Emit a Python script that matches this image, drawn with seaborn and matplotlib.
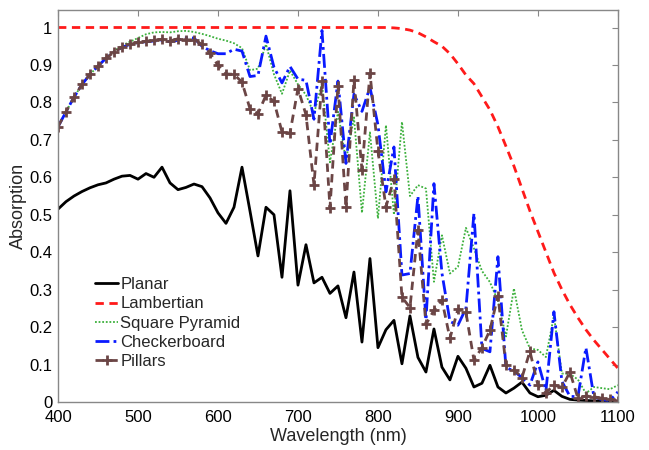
import matplotlib
matplotlib.use("Agg")
import matplotlib.pyplot as plt
import seaborn as sns

# wavelength grid (nm), 10 nm steps
wavelength = list(range(400, 1101, 10))

planar = [
    0.515, 0.535, 0.55, 0.562, 0.572, 0.58, 0.585, 0.595, 0.603, 0.605,
    0.595, 0.61, 0.60, 0.627, 0.585, 0.567, 0.573, 0.582, 0.575, 0.545,
    0.505, 0.477, 0.52, 0.627, 0.51, 0.39, 0.52, 0.50, 0.333, 0.564,
    0.312, 0.42, 0.318, 0.333, 0.29, 0.31, 0.225, 0.347, 0.16, 0.383,
    0.145, 0.193, 0.218, 0.102, 0.23, 0.119, 0.08, 0.195, 0.093, 0.059,
    0.122, 0.09, 0.04, 0.05, 0.098, 0.04, 0.024, 0.037, 0.053, 0.024,
    0.014, 0.018, 0.031, 0.015, 0.007, 0.005, 0.004, 0.003, 0.002, 0.002,
    0.001,
]

lambertian = [
    1.0, 1.0, 1.0, 1.0, 1.0, 1.0, 1.0, 1.0, 1.0, 1.0,
    1.0, 1.0, 1.0, 1.0, 1.0, 1.0, 1.0, 1.0, 1.0, 1.0,
    1.0, 1.0, 1.0, 1.0, 1.0, 1.0, 1.0, 1.0, 1.0, 1.0,
    1.0, 1.0, 1.0, 1.0, 1.0, 1.0, 1.0, 1.0, 1.0, 1.0,
    1.0, 1.0, 0.999, 0.997, 0.993, 0.986, 0.975, 0.962, 0.95, 0.93,
    0.903, 0.873, 0.85, 0.815, 0.78, 0.735, 0.683, 0.63, 0.57, 0.51,
    0.455, 0.40, 0.345, 0.30, 0.26, 0.225, 0.193, 0.165, 0.14, 0.115,
    0.09,
]

square_pyramid = [
    0.735, 0.775, 0.814, 0.848, 0.875, 0.897, 0.918, 0.937, 0.952, 0.962,
    0.972, 0.982, 0.987, 0.988, 0.987, 0.99, 0.991, 0.988, 0.983, 0.977,
    0.97, 0.965, 0.958, 0.945, 0.886, 0.89, 0.955, 0.875, 0.823, 0.885,
    0.848, 0.82, 0.77, 0.85, 0.64, 0.775, 0.645, 0.76, 0.505, 0.72,
    0.49, 0.739, 0.50, 0.748, 0.55, 0.579, 0.57, 0.321, 0.445, 0.343,
    0.361, 0.465, 0.41, 0.35, 0.32, 0.27, 0.175, 0.303, 0.192, 0.143,
    0.139, 0.12, 0.23, 0.076, 0.075, 0.06, 0.023, 0.04, 0.037, 0.034,
    0.045,
]

checkerboard = [
    0.735, 0.775, 0.814, 0.848, 0.875, 0.897, 0.918, 0.934, 0.947, 0.955,
    0.96, 0.962, 0.964, 0.965, 0.962, 0.966, 0.972, 0.972, 0.95, 0.938,
    0.93, 0.93, 0.942, 0.937, 0.869, 0.872, 0.977, 0.894, 0.852, 0.896,
    0.862, 0.859, 0.755, 0.992, 0.688, 0.857, 0.637, 0.822, 0.776, 0.84,
    0.74, 0.561, 0.681, 0.339, 0.343, 0.55, 0.219, 0.583, 0.344, 0.215,
    0.205, 0.25, 0.504, 0.143, 0.134, 0.388, 0.092, 0.083, 0.065, 0.045,
    0.107, 0.03, 0.241, 0.055, 0.015, 0.014, 0.145, 0.014, 0.006, 0.004,
    0.027,
]

pillars = [
    0.735, 0.775, 0.814, 0.848, 0.875, 0.897, 0.918, 0.934, 0.947, 0.955,
    0.96, 0.963, 0.967, 0.968, 0.964, 0.97, 0.967, 0.967, 0.955, 0.932,
    0.899, 0.876, 0.875, 0.854, 0.783, 0.77, 0.819, 0.803, 0.721, 0.718,
    0.837, 0.767, 0.58, 0.857, 0.519, 0.845, 0.52, 0.86, 0.62, 0.878,
    0.67, 0.521, 0.596, 0.28, 0.252, 0.46, 0.207, 0.245, 0.272, 0.17,
    0.248, 0.239, 0.112, 0.145, 0.192, 0.284, 0.099, 0.086, 0.065, 0.135,
    0.045, 0.025, 0.045, 0.039, 0.08, 0.01, 0.016, 0.014, 0.01, 0.007,
    0.003,
]

x_ticks = list(range(400, 1101, 100))
y_ticks = [0, 0.1, 0.2, 0.3, 0.4, 0.5, 0.6, 0.7, 0.8, 0.9, 1]
y_tick_labels = ["0", "0.1", "0.2", "0.3", "0.4", "0.5", "0.6", "0.7", "0.8", "0.9", "1"]

sns.set_style("white")
plt.rcParams['font.family'] = ['Liberation Sans', 'DejaVu Sans']

fig = plt.figure(figsize=(6.49, 4.5), dpi=100)
ax = fig.add_axes([0.0894, 0.1067, 0.8627, 0.8713])

brown = '#6b4545'

sns.lineplot(x=wavelength, y=planar, ax=ax, color='black', lw=2.0,
             label='Planar')
sns.lineplot(x=wavelength, y=lambertian, ax=ax, color='#ff1a1a', lw=2.0,
             linestyle=(0, (3, 2)), label='Lambertian')
sns.lineplot(x=wavelength, y=square_pyramid, ax=ax, color='#3cb03c', lw=1.3,
             linestyle=(0, (1, 1)), label='Square Pyramid')
sns.lineplot(x=wavelength, y=checkerboard, ax=ax, color='#0a1aff', lw=2.0,
             linestyle=(0, (5, 1.5, 1, 1.5)), label='Checkerboard')
sns.lineplot(x=wavelength, y=pillars, ax=ax, color=brown, lw=2.0,
             linestyle=(0, (3, 2)), marker='+', markersize=7,
             markeredgewidth=2, markeredgecolor=brown, markerfacecolor=brown,
             label='Pillars')

ax.set_xlim(400, 1100)
ax.set_ylim(0, 1.047)
ax.set_xticks(x_ticks)
ax.set_yticks(y_ticks)
ax.set_yticklabels(y_tick_labels)
ax.tick_params(direction='in', length=4, width=0.8, colors='#888888',
               labelcolor='black', labelsize=12, top=True, right=True,
               labeltop=False, labelright=False)
ax.tick_params(axis='x', pad=6)
ax.tick_params(axis='y', pad=4)
for s in ax.spines.values():
    s.set_color('#888888')
    s.set_linewidth(1.0)

ax.set_xlabel('Wavelength (nm)', fontsize=13, labelpad=2)
ax.set_ylabel('Absorption', fontsize=13, labelpad=2)

leg = ax.legend(loc='upper left', bbox_to_anchor=(0.055, 0.335), frameon=False,
                fontsize=12, handlelength=1.35, handletextpad=0.15,
                labelspacing=0.25, borderaxespad=0)

fig.savefig('out.png', dpi=100)
